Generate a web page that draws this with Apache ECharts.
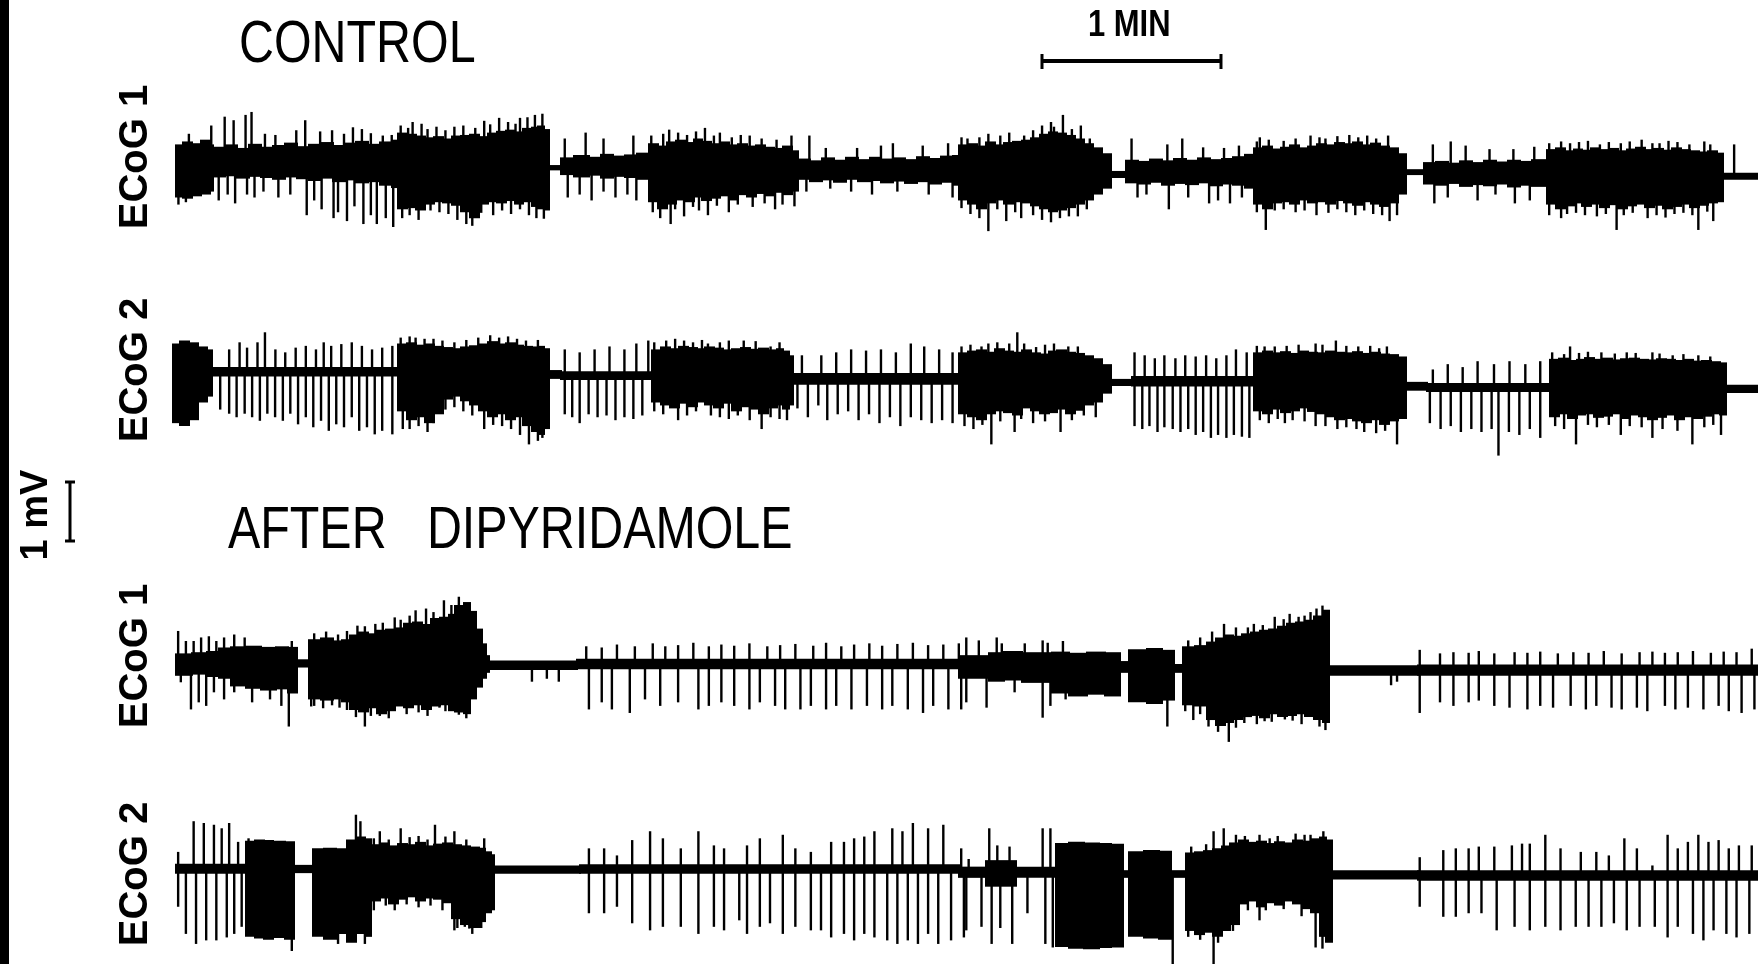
<!DOCTYPE html>
<html>
<head>
<meta charset="utf-8">
<script src="https://cdn.jsdelivr.net/npm/echarts@6/dist/echarts.min.js"></script>
<style>
  html, body { margin: 0; padding: 0; background: #fff; }
  #chart { width: 1758px; height: 964px; }
</style>
</head>
<body>
<div id="chart"></div>
<script>
// Time in seconds from the start of each record, amplitude in mV.
const recordLength = 533;
const timeBarSeconds = 60;
const voltBarMv = 1;

const traceNames = ['ECoG 1', 'ECoG 2', 'ECoG 1', 'ECoG 2'];
const conditionTitles = ['CONTROL', 'AFTER   DIPYRIDAMOLE'];

// Envelope of the dense activity: [start time, upper mV, lower mV], held until the next row.
const ctl1Env = [
  [2.5,0.40,-0.50],[5,0.45,-0.52],[8,0.42,-0.48],[11,0.48,-0.45],[14,0.40,-0.40],
  [15,0.36,-0.16],[19,0.40,-0.14],[23,0.34,-0.18],[27,0.41,-0.15],[31,0.36,-0.17],[35,0.39,-0.20],[39,0.43,-0.16],[43,0.37,-0.19],[47,0.41,-0.22],[51,0.44,-0.18],[55,0.39,-0.24],[59,0.43,-0.21],[63,0.46,-0.26],[67,0.41,-0.24],[71,0.45,-0.30],[75,0.48,-0.34],
  [77,0.60,-0.70],[80,0.58,-0.68],[83,0.55,-0.72],[86,0.52,-0.62],[89,0.54,-0.58],[92,0.50,-0.60],[95,0.55,-0.64],[98,0.56,-0.75],[101,0.58,-0.85],[104,0.54,-0.62],[107,0.60,-0.58],[110,0.63,-0.60],[113,0.65,-0.56],[116,0.62,-0.62],[119,0.68,-0.58],[122,0.70,-0.66],[124,0.72,-0.70],[126,0.66,-0.72],
  [127.5,0.05,-0.04],
  [131.5,0.18,-0.12],[136,0.22,-0.16],[141,0.19,-0.13],[145,0.24,-0.18],[149,0.21,-0.15],[153,0.23,-0.17],[157,0.26,-0.20],
  [161,0.42,-0.58],[164,0.38,-0.70],[167,0.45,-0.62],[170,0.48,-0.55],[173,0.44,-0.58],[176,0.50,-0.50],[179,0.46,-0.56],[182,0.42,-0.52],[185,0.45,-0.48],[188,0.40,-0.55],[191,0.42,-0.46],[194,0.38,-0.50],[197,0.40,-0.44],[200,0.36,-0.48],[203,0.34,-0.42],[206,0.38,-0.46],[209,0.30,-0.40],
  [211,0.16,-0.20],[215,0.13,-0.24],[219,0.18,-0.21],[223,0.14,-0.25],[227,0.19,-0.20],[231,0.15,-0.24],[235,0.19,-0.22],[239,0.16,-0.26],[243,0.18,-0.23],[247,0.15,-0.27],[251,0.20,-0.24],[255,0.17,-0.28],[259,0.21,-0.25],[263,0.22,-0.30],
  [265,0.40,-0.55],[268,0.42,-0.62],[271,0.38,-0.70],[274,0.45,-0.60],[277,0.40,-0.55],[280,0.44,-0.62],[283,0.46,-0.58],[286,0.48,-0.60],[289,0.52,-0.65],[292,0.58,-0.70],[295,0.62,-0.75],[298,0.60,-0.72],[301,0.56,-0.68],[304,0.50,-0.62],[307,0.42,-0.55],[310,0.35,-0.45],[313,0.25,-0.35],
  [316,-0.05,-0.17],
  [321,0.14,-0.26],[325,0.12,-0.28],[329,0.16,-0.25],[333,0.13,-0.30],[337,0.17,-0.27],[341,0.14,-0.29],[345,0.18,-0.26],[349,0.15,-0.31],[353,0.17,-0.28],[357,0.20,-0.30],[361,0.24,-0.35],
  [364,0.35,-0.62],[367,0.38,-0.70],[370,0.33,-0.60],[373,0.36,-0.58],[376,0.40,-0.62],[379,0.35,-0.55],[382,0.38,-0.60],[385,0.42,-0.58],[388,0.40,-0.62],[391,0.44,-0.56],[394,0.42,-0.60],[397,0.45,-0.64],[400,0.40,-0.58],[403,0.43,-0.62],[406,0.38,-0.66],[409,0.35,-0.60],[412,0.25,-0.45],
  [415,-0.02,-0.12],
  [421,0.10,-0.28],[425,0.12,-0.30],[429,0.09,-0.27],[433,0.13,-0.32],[437,0.10,-0.29],[441,0.14,-0.31],[445,0.11,-0.28],[449,0.14,-0.33],[453,0.12,-0.30],[457,0.15,-0.32],
  [462,0.32,-0.62],[465,0.35,-0.70],[468,0.30,-0.65],[471,0.33,-0.60],[474,0.31,-0.66],[477,0.35,-0.62],[480,0.32,-0.68],[483,0.34,-0.63],[486,0.30,-0.70],[489,0.33,-0.65],[492,0.36,-0.62],[495,0.32,-0.68],[498,0.34,-0.64],[501,0.31,-0.70],[504,0.35,-0.66],[507,0.32,-0.62],[510,0.30,-0.68],[513,0.28,-0.64],[516,0.30,-0.60],[519,0.26,-0.58],
  [521,-0.08,-0.20]
];

// Single discharges standing out of the envelope: [time, tip mV].
const ctl1Spikes = [
  [7,0.58],[14.5,0.72],[19,0.87],[22,0.81],[26,0.90],[28,0.95],[32.5,0.58],[36,0.56],[43,0.64],[46,0.81],[51,0.62],[55,0.64],[59,0.58],[62,0.69],[65,0.66],[68,0.59],[72,0.55],[75,0.56],
  [78,0.72],[80.5,0.68],[82,0.78],[85,0.75],[87,0.66],[90,0.70],[93,0.64],[96,0.70],[99,0.72],[103,0.68],[106,0.80],[108,0.74],[111,0.85],[114,0.78],[116.5,0.75],[118,0.85],[120.5,0.86],[123,0.90],[125.5,0.92],
  [133,0.50],[140,0.60],[146,0.50],[156,0.55],
  [162,0.55],[166,0.58],[168,0.65],[171,0.60],[174,0.56],[177,0.62],[180,0.68],[183,0.55],[185,0.60],[189,0.52],[192,0.56],[195,0.55],[199,0.50],[204,0.48],[209,0.55],
  [215,0.55],[220.5,0.34],[231,0.34],[239,0.38],[243,0.42],[253,0.38],[261.5,0.42],
  [266,0.52],[268,0.50],[272,0.52],[275,0.58],[279,0.55],[282,0.60],[287,0.55],[290,0.64],[293,0.72],[296,0.78],[297,0.70],[300,0.90],[303,0.66],[306,0.72],[309,0.50],
  [323,0.50],[335,0.40],[340,0.50],[347,0.35],[354,0.34],[359,0.38],
  [365,0.45],[366,0.52],[369,0.48],[374,0.46],[378,0.50],[383,0.55],[386,0.52],[388,0.50],[392,0.54],[396,0.56],[399,0.52],[402,0.55],[405,0.50],[409,0.55],
  [424,0.40],[430,0.45],[435,0.38],[443,0.32],[451,0.32],[458,0.36],
  [463,0.42],[467,0.45],[470,0.42],[473,0.44],[476,0.46],[480,0.40],[483,0.44],[487,0.42],[490,0.45],[494,0.48],[497.6,0.42],[500,0.42],[503,0.46],[506,0.44],[510,0.40],[515,0.45],[517,0.40],[525,0.40],
  [3.5,-0.62],[6,-0.58],[17,-0.55],[20,-0.45],[22.5,-0.60],[26.5,-0.45],[29,-0.50],[32,-0.40],[37,-0.50],[41,-0.45],[46.5,-0.80],[49,-0.55],[51.5,-0.70],[55.5,-0.85],[57,-0.75],[60,-0.90],[62.5,-0.65],[65.5,-0.95],[68,-0.80],[70,-0.95],[73,-0.85],[75.5,-1.00],
  [78.5,-0.85],[81,-0.80],[84,-0.88],[88,-0.72],[91,-0.75],[94,-0.78],[97,-0.88],[100,-0.95],[102,-0.98],[105,-0.76],[109,-0.80],[112,-0.72],[115,-0.78],[118,-0.70],[121,-0.80],[123.5,-0.85],[126,-0.86],
  [134,-0.50],[138,-0.45],[142,-0.55],[146,-0.40],[150,-0.50],[154,-0.45],[157,-0.55],
  [162.5,-0.75],[165,-0.85],[168.5,-0.95],[170,-0.70],[173,-0.82],[176,-0.66],[178,-0.72],[181,-0.80],[184,-0.64],[188,-0.75],[191,-0.62],[196,-0.66],[200,-0.60],[203.5,-0.70],[206,-0.62],[210,-0.65],
  [214,-0.40],[222,-0.35],[229,-0.40],[236,-0.45],[244.5,-0.40],[255,-0.45],[263,-0.50],
  [266,-0.68],[269,-0.78],[272,-0.85],[275,-1.07],[278,-0.70],[281,-0.90],[284,-0.75],[286,-0.85],[290,-0.80],[293,-0.88],[296,-0.92],[299,-0.85],[302,-0.82],[305,-0.82],[308,-0.70],
  [325,-0.50],[328,-0.45],[335.5,-0.70],[342,-0.50],[349,-0.60],[352,-0.55],[356,-0.60],[360,-0.50],
  [365,-0.75],[368,-1.05],[371,-0.72],[374,-0.70],[378,-0.75],[381,-0.72],[385,-0.80],[389,-0.76],[392,-0.70],[395,-0.75],[398,-0.80],[401,-0.72],[404,-0.78],[407,-0.80],[409.5,-0.90],[412,-0.80],
  [424.5,-0.60],[429,-0.50],[439,-0.55],[445,-0.45],[451.5,-0.60],[456.5,-0.55],
  [463,-0.80],[467,-0.85],[469,-0.78],[472,-0.76],[475,-0.80],[479,-0.82],[482,-0.78],[485.6,-1.05],[488,-0.80],[491,-0.76],[496,-0.85],[499,-0.80],[502,-0.84],[505,-0.78],[508,-0.76],[511,-0.80],[513,-1.05],[516,-0.74],[518,-0.90]
];

const ctl2Env = [
  [1.5,0.50,-0.85],[4,0.55,-0.90],[7,0.52,-0.80],[10,0.45,-0.50],[13,0.40,-0.40],
  [14.5,0.10,-0.06],
  [77,0.50,-0.65],[80,0.52,-0.80],[83,0.48,-0.75],[86,0.50,-0.85],[89,0.46,-0.70],[92,0.44,-0.45],[95,0.42,-0.40],[98,0.45,-0.48],[101,0.47,-0.55],[104,0.50,-0.65],[107,0.54,-0.75],[110,0.50,-0.70],[113,0.52,-0.80],[116,0.48,-0.75],[119,0.46,-0.90],[122,0.45,-1.00],[124,0.46,-1.05],[126,0.42,-0.95],
  [127.5,0.05,-0.10],
  [131.5,0.03,-0.12],
  [162,0.40,-0.50],[165,0.45,-0.55],[168,0.42,-0.60],[171,0.46,-0.52],[174,0.44,-0.58],[177,0.42,-0.50],[180,0.45,-0.55],[183,0.43,-0.60],[186,0.40,-0.52],[189,0.42,-0.65],[192,0.44,-0.58],[195,0.41,-0.62],[198,0.43,-0.70],[201,0.40,-0.60],[204,0.42,-0.55],[206,0.38,-0.62],[208,0.30,-0.55],
  [209.5,0.00,-0.20],
  [265,0.35,-0.70],[268,0.38,-0.75],[271,0.40,-0.80],[274,0.36,-0.70],[277,0.42,-0.65],[280,0.38,-0.68],[283,0.36,-0.72],[286,0.40,-0.60],[289,0.35,-0.65],[292,0.33,-0.70],[295,0.38,-0.68],[298,0.40,-0.62],[301,0.36,-0.70],[304,0.34,-0.64],[307,0.30,-0.55],[310,0.25,-0.50],[313,0.15,-0.35],
  [316,-0.10,-0.22],
  [323,-0.05,-0.23],
  [364,0.35,-0.65],[367,0.38,-0.70],[370,0.35,-0.62],[373,0.37,-0.68],[376,0.34,-0.65],[379,0.38,-0.60],[382,0.36,-0.66],[385,0.35,-0.70],[388,0.38,-0.75],[391,0.36,-0.80],[394,0.35,-0.78],[397,0.37,-0.82],[400,0.34,-0.85],[403,0.36,-0.80],[406,0.33,-0.88],[409,0.32,-0.82],[412,0.28,-0.78],
  [415,-0.15,-0.30],
  [422,-0.17,-0.32],
  [463,0.24,-0.75],[466,0.26,-0.70],[469,0.22,-0.78],[472,0.24,-0.72],[475,0.27,-0.70],[478,0.24,-0.76],[481,0.26,-0.74],[484,0.23,-0.70],[487,0.25,-0.78],[490,0.26,-0.72],[493,0.24,-0.75],[496,0.23,-0.80],[499,0.25,-0.76],[502,0.24,-0.72],[505,0.22,-0.80],[508,0.24,-0.75],[511,0.21,-0.78],[514,0.22,-0.74],[517,0.20,-0.70],[520,0.18,-0.72],
  [522,-0.20,-0.34]
];

const ctl2Spikes = [
  [20.5,0.40],[24,0.52],[26.5,0.43],[30,0.52],[32.5,0.69],[36,0.40],[39.3,0.35],[42.8,0.43],[46.2,0.46],[49.6,0.40],[52.2,0.52],[54.7,0.46],[58.1,0.49],[61.6,0.52],[65,0.46],[68.4,0.40],[71.8,0.43],[75.2,0.46],
  [17.5,-0.62],[20.5,-0.69],[23,-0.75],[25.7,-0.69],[28.2,-0.75],[30.8,-0.81],[33.3,-0.69],[35.9,-0.75],[38.5,-0.81],[41,-0.69],[43.6,-0.87],[46.2,-0.75],[48.7,-0.92],[51.3,-0.81],[53.9,-0.98],[56.4,-0.87],[59,-0.92],[61.6,-0.75],[64.1,-0.98],[66.7,-0.92],[69.3,-1.04],[71.8,-0.98],[75.2,-1.04],
  [78,0.60],[81,0.62],[83,0.60],[86,0.58],[89,0.58],[92,0.55],[96,0.52],[100,0.56],[104,0.60],[108,0.64],[111,0.60],[114,0.62],[117,0.58],[120,0.55],[124,0.56],
  [78.7,-0.95],[81,-0.95],[84,-0.90],[87,-1.00],[89,-0.85],[93,-0.62],[96,-0.58],[99,-0.65],[102,-0.72],[106,-0.95],[109,-0.88],[112,-0.90],[115,-0.95],[118,-1.05],[121,-1.21],[124,-1.15],[125.5,-1.10],
  [133,0.40],[138,0.35],[143,0.40],[148,0.45],[153,0.40],[157,0.50],[161,0.55],
  [133,-0.70],[135.5,-0.75],[138,-0.85],[141,-0.70],[144,-0.75],[147,-0.72],[150,-0.80],[153,-0.75],[156,-0.78],[159,-0.72],
  [163,0.52],[167,0.55],[170,0.58],[173,0.55],[176,0.52],[179,0.56],[181,0.50],[185,0.52],[188,0.55],[193,0.55],[197,0.54],[202,0.45],[205,0.52],
  [163,-0.65],[166,-0.70],[171,-0.80],[174,-0.72],[177,-0.65],[182,-0.72],[185,-0.75],[188,-0.78],[191,-0.72],[195,-0.80],[199,-0.95],[202,-0.75],[205,-0.78],[207.5,-0.80],
  [212.5,0.30],[219,0.30],[224,0.35],[229,0.40],[234,0.38],[239,0.40],[244,0.35],[249,0.50],[253.5,0.45],[258.5,0.40],[263,0.35],
  [211,-0.60],[214.5,-0.75],[218,-0.55],[221,-0.80],[224.5,-0.70],[228,-0.65],[231.5,-0.80],[235,-0.70],[238.5,-0.85],[242,-0.75],[245.5,-0.90],[249,-0.75],[252.5,-0.80],[256,-0.85],[259.5,-0.80],[263,-0.85],
  [266,0.45],[269,0.48],[272.7,0.45],[275,0.50],[278,0.52],[282,0.50],[284.7,0.69],[287,0.50],[291,0.44],[294,0.48],[297,0.50],[301.8,0.45],[305,0.45],
  [267,-0.90],[270,-0.95],[273,-0.88],[276,-1.21],[279,-0.82],[283.8,-1.00],[286,-0.78],[290,-0.85],[294,-0.82],[299.2,-1.00],[303,-0.80],[307,-0.72],[311,-0.75],
  [324,0.35],[327.4,0.30],[330.8,0.25],[334,0.30],[337.7,0.25],[341,0.30],[344.5,0.28],[348,0.30],[351.4,0.25],[354.8,0.30],[358,0.40],[361.6,0.35],
  [324,-0.90],[326.6,-0.95],[329,-0.90],[331.7,-1.00],[334,-0.92],[336.8,-0.95],[339.4,-1.00],[342,-0.95],[344.5,-1.05],[347,-1.00],[349.6,-1.10],[352,-1.05],[354.8,-1.10],[357.3,-1.05],[360,-1.08],[362.5,-1.10],
  [365,0.46],[367.6,0.45],[371,0.45],[375,0.46],[379,0.48],[384.7,0.50],[387,0.48],[391.5,0.55],[395,0.46],[399,0.45],[403,0.46],[406,0.42],[408.6,0.45],
  [366,-0.80],[369,-0.85],[372,-0.78],[374.4,-0.85],[377,-0.80],[381,-0.82],[384.7,-0.90],[388,-0.90],[392,-0.95],[395,-0.92],[398.4,-0.95],[401,-1.00],[405,-1.02],[408,-0.98],[412,-1.21],
  [424,0.06],[429,0.15],[434,0.10],[439,0.20],[444.5,0.15],[449.7,0.20],[455,0.15],[460,0.20],
  [423,-0.85],[426.6,-0.95],[430,-0.90],[433.4,-1.00],[436.9,-0.95],[440.3,-1.00],[443.7,-0.95],[446,-1.40],[449.5,-1.00],[453,-1.05],[456.5,-0.95],[460,-1.10],
  [464,0.35],[468,0.32],[470,0.45],[473,0.34],[476,0.36],[480.5,0.35],[485,0.33],[489,0.35],[492,0.34],[497.6,0.35],[500,0.33],[504.4,0.30],[508,0.32],[513,0.30],[517,0.28],
  [465,-0.90],[468,-0.95],[472,-1.21],[476,-0.88],[479,-0.92],[483,-0.88],[487,-1.05],[490,-0.90],[494,-0.92],[497.6,-1.10],[501,-0.95],[506,-0.98],[511,-1.21],[515,-0.92],[518,-0.88],[520.6,-1.05]
];

const dip1Env = [
  [2.5,0.18,-0.20],[8,0.20,-0.18],[13,0.22,-0.22],[17,0.28,-0.25],[21,0.30,-0.38],[26,0.31,-0.42],[31,0.29,-0.45],[36,0.30,-0.43],[40,0.29,-0.50],
  [43,0.08,-0.06],
  [47,0.42,-0.60],[51,0.45,-0.62],[55,0.40,-0.60],[58,0.42,-0.65],[61,0.50,-0.78],[64,0.55,-0.82],[67,0.52,-0.75],[70,0.58,-0.85],[73,0.60,-0.80],[76,0.62,-0.72],[79,0.70,-0.75],[82,0.72,-0.70],[85,0.68,-0.78],[88,0.78,-0.72],[91,0.80,-0.70],[94,0.85,-0.80],[96,1.00,-0.82],[99,1.05,-0.85],[101,0.90,-0.60],[103,0.60,-0.40],[105,0.35,-0.25],[106.5,0.15,-0.15],
  [107.5,0.06,-0.10],
  [137,0.09,-0.09],
  [265,0.15,-0.25],[275,0.20,-0.30],[280,0.22,-0.28],[286,0.20,-0.32],[296,0.21,-0.50],[302,0.19,-0.55],[308,0.21,-0.52],[314,0.20,-0.55],
  [319,0.05,-0.15],
  [322,0.25,-0.65],[328,0.27,-0.68],[333,0.24,-0.62],
  [337,0.00,-0.15],
  [340,0.30,-0.70],[344,0.32,-0.72],[348,0.38,-0.95],[351,0.45,-1.05],[354,0.50,-1.00],[357,0.48,-0.95],[360,0.52,-0.90],[363,0.55,-0.88],[366,0.58,-0.92],[369,0.60,-0.85],[372,0.65,-0.90],[375,0.70,-0.88],[378,0.72,-0.85],[381,0.75,-0.90],[384,0.82,-0.95],[387,0.92,-1.00],
  [389,-0.02,-0.20],
  [419,-0.01,-0.20]
];

const dip1Spikes = [
  [3.4,0.56],[6,0.39],[8.6,0.39],[11.1,0.45],[13.7,0.47],[16.2,0.39],[18.8,0.45],[22.2,0.50],[25.7,0.45],[41.5,0.39],
  [4.3,-0.31],[7.7,-0.77],[10.3,-0.65],[12.8,-0.71],[15.4,-0.48],[18.8,-0.60],[22.2,-0.48],[28.2,-0.65],[34.2,-0.60],[38,-0.71],[40.5,-1.06],
  [49,0.52],[53,0.55],[57,0.50],[60,0.56],[63.5,0.65],[66,0.64],[69.5,0.68],[72,0.70],[76,0.79],[78,0.75],[81,0.82],[83,0.91],[86.5,0.94],[89,0.88],[92.5,1.08],[95,1.00],[97.5,1.14],
  [48,-0.72],[49,-0.71],[52,-0.75],[55,-0.70],[57.5,-0.74],[60,-0.78],[63,-0.90],[66,-1.06],[68,-0.88],[71,-0.88],[74,-0.92],[76,-0.77],[80,-0.85],[84,-0.82],[87,-0.88],[91,-0.74],[93,-0.80],[97.5,-0.86],[100,-0.92],
  [122,-0.30],[127,-0.25],[131,-0.30],
  [140.2,0.30],[145.4,0.28],[150.5,0.33],[156.5,0.30],[162.5,0.35],[166.7,0.30],[171,0.32],[176.1,0.36],[181.3,0.30],[185.5,0.33],[189.8,0.31],[194.9,0.35],[200.9,0.30],[205.2,0.32],[210.3,0.34],[216.3,0.31],[220.6,0.36],[225.7,0.30],[230,0.33],[235.1,0.35],[239.4,0.31],[244.5,0.34],[249.7,0.36],[254.8,0.32],[259.9,0.33],[265.1,0.35],
  [141.1,-0.77],[145.4,-0.65],[148.8,-0.77],[154.8,-0.83],[159.9,-0.60],[165,-0.71],[171,-0.65],[177.8,-0.77],[181.3,-0.71],[185.5,-0.65],[189.8,-0.71],[194.9,-0.77],[198.4,-0.65],[203.5,-0.71],[206.9,-0.77],[212,-0.77],[215.5,-0.71],[220.6,-0.77],[224,-0.71],[229.1,-0.77],[234.3,-0.71],[239.4,-0.77],[242.8,-0.71],[248,-0.77],[253.1,-0.83],[256.5,-0.71],[261.6,-0.77],[265.9,-0.77],
  [267.6,0.45],[271.8,0.40],[277.8,0.45],[279.5,0.35],[287.2,0.35],[293.2,0.40],[294.9,0.36],[300,0.39],
  [267.6,-0.65],[274.4,-0.74],[283.8,-0.48],[293.2,-0.91],[295.8,-0.71],[300.9,-0.60],
  [335,-1.06],
  [342,0.40],[346,0.45],[350,0.55],[354,0.68],[358,0.62],[362,0.62],[364,0.68],[367,0.66],[371,0.80],[374,0.76],[376,0.85],[379,0.80],[381,0.82],[383,0.88],[385,0.94],[387,0.99],
  [341,-0.80],[343.7,-0.95],[346,-0.85],[348.8,-1.06],[352,-1.15],[355.6,-1.32],[358,-1.08],[360.8,-1.00],[365,-1.02],[367.6,-0.97],[370,-0.98],[374.4,-0.94],[377,-0.96],[380,-1.02],[384.7,-0.94],[386,-1.06],[388,-1.12],
  [410,-0.36],[412,-0.30],
  [419.6,0.24],[426.4,0.18],[430.9,0.20],[436,0.19],[439.4,0.22],[444.6,0.18],[451.4,0.20],[455.7,0.19],[460,0.21],[465.9,0.18],[471.1,0.20],[476.2,0.19],[481.3,0.22],[487.3,0.18],[493.3,0.20],[497.6,0.21],[501.8,0.19],[506.1,0.20],[511.2,0.22],[517.2,0.19],[521.5,0.21],[525.8,0.20],[530.9,0.26],
  [419.6,-0.83],[426.4,-0.65],[430.9,-0.71],[436,-0.65],[439.4,-0.62],[444.6,-0.71],[449.7,-0.74],[455.7,-0.77],[460,-0.71],[464.3,-0.74],[470.2,-0.71],[475.3,-0.77],[478.8,-0.71],[483.9,-0.74],[487.3,-0.77],[492.4,-0.74],[495.9,-0.80],[501.8,-0.71],[505.3,-0.77],[509.5,-0.74],[514.7,-0.77],[519.8,-0.71],[523.2,-0.80],[527.5,-0.83],[531.8,-0.77]
];

const dip2Env = [
  [2.5,0.09,-0.08],
  [26,0.48,-1.15],[29,0.50,-1.18],[32,0.49,-1.20],[35,0.48,-1.17],[39,0.47,-1.20],
  [42,0.07,-0.07],
  [48.5,0.35,-1.15],[52,0.36,-1.20],[56,0.35,-1.10],[60,0.50,-1.25],[63,0.55,-1.10],[66,0.52,-1.15],
  [68,0.42,-0.55],[71,0.45,-0.50],[74,0.40,-0.60],[77,0.44,-0.52],[80,0.42,-0.48],[83,0.46,-0.55],[86,0.40,-0.50],[89,0.43,-0.52],[92,0.45,-0.58],[95,0.42,-0.85],[98,0.40,-0.95],[101,0.38,-1.00],[104,0.36,-0.90],[106,0.30,-0.75],[108,0.25,-0.70],
  [109,0.06,-0.08],
  [138,0.08,-0.08],
  [265,0.04,-0.15],
  [274,0.15,-0.30],
  [284,0.04,-0.15],
  [297.5,0.44,-1.32],[302,0.46,-1.35],[307,0.45,-1.36],[312,0.44,-1.34],[316,0.43,-1.33],
  [320,-0.02,-0.15],
  [322,0.30,-1.15],[327,0.32,-1.18],[332,0.31,-1.20],
  [336,-0.02,-0.15],
  [341,0.28,-1.05],[344,0.30,-1.12],[347,0.32,-1.08],[350,0.35,-1.15],[353,0.40,-1.05],[356,0.45,-0.95],[359,0.50,-0.60],[362,0.46,-0.55],[365,0.48,-0.65],[368,0.44,-0.58],[371,0.47,-0.62],[374,0.45,-0.55],[377,0.50,-0.60],[380,0.48,-0.68],[383,0.52,-0.75],[386,0.55,-1.15],[388,0.50,-1.25],
  [390,-0.02,-0.18],
  [419,-0.02,-0.20]
];

const dip2Spikes = [
  [3.4,0.29],[8.6,0.81],[12,0.78],[15.4,0.75],[18,0.69],[20.5,0.78],[23.5,0.46],[27,0.52],
  [3.4,-0.64],[6,-1.10],[9.4,-1.27],[12.8,-1.21],[16.2,-1.21],[19.7,-1.16],[22.2,-1.10],[24.7,-0.98],
  [41.5,-1.39],
  [63,0.92],[64.5,0.81],[57,-1.27],[66,-1.27],
  [69,0.52],[71,0.64],[74,0.50],[78,0.69],[81,0.54],[84,0.56],[87,0.50],[89.5,0.75],[93,0.55],[96,0.64],[100,0.50],[106,0.52],
  [69,-0.70],[73,-0.62],[76,-0.70],[80,-0.60],[84,-0.65],[88,-0.62],[92,-0.70],[96,-1.04],[97,-1.00],[99.5,-0.98],[101,-1.01],[102,-1.10],[105,-1.00],
  [141.1,0.35],[146.2,0.35],[150.5,0.23],[155.6,0.49],[161.6,0.64],[165.9,0.52],[171.9,0.35],[177.8,0.64],[183,0.40],[186.4,0.35],[194.1,0.40],[198.4,0.52],[206.1,0.58],[210.3,0.35],[215.5,0.29],[222.3,0.46],[226.6,0.46],[230,0.52],[233.4,0.55],[236.8,0.64],[242.8,0.69],[246.2,0.64],[249.7,0.78],[254.8,0.69],[259.9,0.75],[265.9,0.35],
  [141.1,-0.75],[146.2,-0.75],[150.5,-0.64],[155.6,-0.92],[161.6,-1.04],[165.9,-0.98],[171.9,-0.98],[177.8,-1.10],[183,-0.98],[186.4,-1.04],[191.5,-0.87],[194.1,-1.10],[198.4,-0.98],[201.8,-0.92],[206.1,-1.10],[210.3,-0.98],[215.5,-1.04],[218.9,-1.04],[222.3,-1.16],[226.6,-1.10],[230,-1.21],[233.4,-1.10],[236.8,-1.16],[241.1,-1.21],[244.5,-1.27],[248,-1.21],[251.4,-1.27],[254.8,-1.10],[258.2,-1.27],[262.5,-1.21],[266.8,-1.16],
  [268.4,0.17],[275.3,0.69],[278,0.40],[282.1,0.38],[293.2,0.69],[295.8,0.69],
  [267.6,-1.04],[272.7,-0.98],[276.1,-1.27],[279,-1.00],[283,-1.27],[288.1,-0.75],[294.1,-1.27],[296.6,-1.33],
  [336.8,-1.62],
  [343,0.38],[348,0.42],[350.5,0.64],[353.9,0.69],[358,0.58],[361,0.56],[365.9,0.58],[369.3,0.52],[372,0.56],[378,0.60],[381,0.58],[383,0.58],[387.3,0.64],
  [342,-1.15],[346,-1.20],[350.5,-1.62],[352,-1.25],[357,-1.05],[362,-0.70],[365.9,-0.87],[368,-0.70],[374,-0.68],[380,-0.80],[384.7,-1.33],[387,-1.35],
  [419.6,0.20],[427.5,0.32],[431.7,0.35],[436,0.35],[439.4,0.38],[444.6,0.38],[450.5,0.40],[453.9,0.43],[456.5,0.43],[461.7,0.58],[466.8,0.35],[473.6,0.29],[478.8,0.29],[483,0.23],[488.2,0.52],[492.4,0.35],[497.6,0.06],[502.7,0.58],[506.1,0.35],[509.5,0.46],[513,0.58],[516.4,0.46],[519.8,0.49],[523.2,0.35],[526.6,0.40],[530.9,0.40],
  [419.6,-0.64],[427.5,-0.81],[431.7,-0.81],[436,-0.75],[440.3,-0.75],[445.4,-1.04],[451.4,-0.98],[456.5,-1.04],[461.7,-0.98],[466.8,-1.04],[471.9,-0.98],[476.2,-0.98],[480.5,-0.98],[484.7,-0.92],[489,-1.04],[493.3,-0.98],[498.4,-0.98],[502.7,-1.16],[506.1,-0.98],[511.2,-1.10],[514.7,-1.21],[518.1,-1.04],[522.4,-1.10],[525.8,-1.16],[530.1,-1.10]
];

const traceEnvelopes = [ctl1Env, ctl2Env, dip1Env, dip2Env];
const traceSpikes = [ctl1Spikes, ctl2Spikes, dip1Spikes, dip2Spikes];

// Layout: pixel baseline of each trace and the vertical scale.
const plotLeft = 168;
const pxPerMv = 59;
const mvRange = 1.5;
const baselines = [168, 373, 664, 869];
const labelCentres = [157, 370, 656, 874];

const chart = echarts.init(document.getElementById('chart'), null, { renderer: 'canvas' });

// Middle of the envelope step that contains time t (where a discharge leaves the trace).
function midLevelAt(env, t) {
  let row = env[0];
  for (const r of env) { if (r[0] <= t) row = r; else break; }
  return (row[1] + row[2]) / 2;
}

function envelopeSeries(i) {
  const env = traceEnvelopes[i];
  const data = env.map((r, k) => [r[0], k + 1 < env.length ? env[k + 1][0] : recordLength, r[1], r[2]]);
  return {
    type: 'custom', xAxisIndex: i, yAxisIndex: i, silent: true, animation: false, clip: false,
    encode: { x: [0, 1], y: [2, 3] },
    data,
    renderItem(params, api) {
      const p0 = api.coord([api.value(0), api.value(2)]);
      const p1 = api.coord([api.value(1), api.value(3)]);
      return {
        type: 'rect',
        shape: { x: Math.floor(p0[0]), y: p0[1], width: Math.ceil(p1[0]) - Math.floor(p0[0]) + 1, height: Math.max(p1[1] - p0[1], 1) },
        style: { fill: '#000' }
      };
    }
  };
}

function spikeSeries(i) {
  const env = traceEnvelopes[i];
  const data = traceSpikes[i].map(s => [s[0], s[1], midLevelAt(env, s[0])]);
  return {
    type: 'custom', xAxisIndex: i, yAxisIndex: i, silent: true, animation: false, clip: false,
    encode: { x: 0, y: [1, 2] },
    data,
    renderItem(params, api) {
      const a = api.coord([api.value(0), api.value(2)]);
      const b = api.coord([api.value(0), api.value(1)]);
      return {
        type: 'line',
        shape: { x1: a[0], y1: a[1], x2: b[0], y2: b[1] },
        style: { stroke: '#000', lineWidth: 2.4 }
      };
    }
  };
}

const grids = baselines.map(b => ({
  left: plotLeft, right: 0, top: b - mvRange * pxPerMv, height: 2 * mvRange * pxPerMv
}));
const xAxes = baselines.map((b, i) => ({
  type: 'value', gridIndex: i, min: 0, max: recordLength, show: false
}));
const yAxes = baselines.map((b, i) => ({
  type: 'value', gridIndex: i, min: -mvRange, max: mvRange, show: false
}));

const series = [];
for (let i = 0; i < 4; i++) { series.push(envelopeSeries(i)); series.push(spikeSeries(i)); }

chart.setOption({
  backgroundColor: '#fff',
  animation: false,
  grid: grids,
  xAxis: xAxes,
  yAxis: yAxes,
  series
});

// Calibration bars follow the axes' own scales.
const o = chart.convertToPixel({ gridIndex: 0 }, [0, 0]);
const tEnd = chart.convertToPixel({ gridIndex: 0 }, [timeBarSeconds, 0]);
const vEnd = chart.convertToPixel({ gridIndex: 0 }, [0, voltBarMv]);
const timeLen = tEnd[0] - o[0];
const voltLen = o[1] - vEnd[1];

const timeBarX = 1042, timeBarY = 61;
const voltBarX = 70, voltBarY = 482;

const titleFont = '59px "Liberation Sans", Arial, sans-serif';
const labelFont = 'bold 40px "Liberation Sans", Arial, sans-serif';

const graphic = [
  { type: 'rect', left: 0, top: 0, shape: { width: 9, height: 964 }, style: { fill: '#000' } },
  { type: 'text', x: 239, y: 46, scaleX: 0.82, style: { text: conditionTitles[0], font: titleFont, fill: '#000', align: 'left', verticalAlign: 'middle' } },
  { type: 'text', x: 228, y: 532, scaleX: 0.82, style: { text: conditionTitles[1], font: titleFont, fill: '#000', align: 'left', verticalAlign: 'middle' } },
  { type: 'text', x: 1088, y: 26, scaleX: 0.86, style: { text: '1 MIN', font: 'bold 36px "Liberation Sans", Arial, sans-serif', fill: '#000', align: 'left', verticalAlign: 'middle' } },
  { type: 'line', shape: { x1: timeBarX, y1: timeBarY, x2: timeBarX + timeLen, y2: timeBarY }, style: { stroke: '#000', lineWidth: 4 } },
  { type: 'line', shape: { x1: timeBarX, y1: timeBarY - 7, x2: timeBarX, y2: timeBarY + 8 }, style: { stroke: '#000', lineWidth: 3 } },
  { type: 'line', shape: { x1: timeBarX + timeLen, y1: timeBarY - 7, x2: timeBarX + timeLen, y2: timeBarY + 8 }, style: { stroke: '#000', lineWidth: 3 } },
  { type: 'line', shape: { x1: voltBarX, y1: voltBarY, x2: voltBarX, y2: voltBarY + voltLen }, style: { stroke: '#000', lineWidth: 3 } },
  { type: 'line', shape: { x1: voltBarX - 5, y1: voltBarY, x2: voltBarX + 5, y2: voltBarY }, style: { stroke: '#000', lineWidth: 3 } },
  { type: 'line', shape: { x1: voltBarX - 5, y1: voltBarY + voltLen, x2: voltBarX + 5, y2: voltBarY + voltLen }, style: { stroke: '#000', lineWidth: 3 } },
  { type: 'text', x: 37, y: 515, rotation: Math.PI / 2, style: { text: '1 mV', font: 'bold 38px "Liberation Sans", Arial, sans-serif', fill: '#000', align: 'center', verticalAlign: 'middle' } }
];
traceNames.forEach((name, i) => {
  graphic.push({
    type: 'text', x: 136, y: labelCentres[i], rotation: Math.PI / 2,
    style: { text: name, font: labelFont, fill: '#000', align: 'center', verticalAlign: 'middle' }
  });
});

chart.setOption({ graphic });
</script>
</body>
</html>
